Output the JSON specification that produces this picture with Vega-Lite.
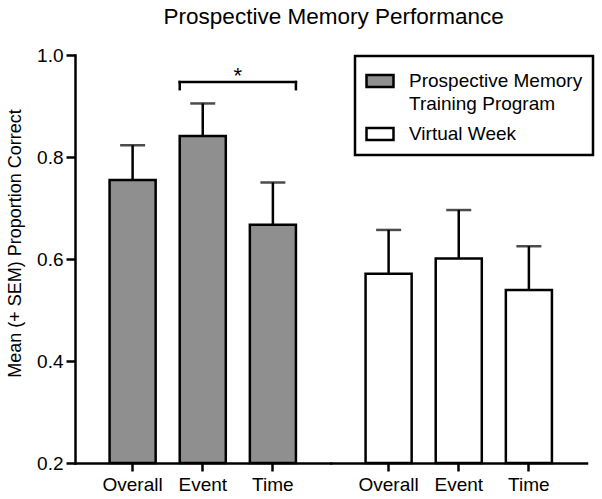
{
  "$schema": "https://vega.github.io/schema/vega-lite/v6.json",
  "padding": {"left": 6, "top": 5, "right": 5, "bottom": 5},
  "background": "white",
  "title": {"text": "Prospective Memory Performance", "anchor": "start", "dx": 157, "fontSize": 22.5, "font": "Liberation Sans", "fontWeight": "normal", "color": "black", "offset": 18},
  "datasets": {
    "bars": [
      {"group": "Prospective Memory Training Program", "cond": "Overall", "mean": 0.755, "upper": 0.823},
      {"group": "Prospective Memory Training Program", "cond": "Event", "mean": 0.841, "upper": 0.905},
      {"group": "Prospective Memory Training Program", "cond": "Time", "mean": 0.667, "upper": 0.750},
      {"group": "Virtual Week", "cond": "Overall", "mean": 0.571, "upper": 0.657},
      {"group": "Virtual Week", "cond": "Event", "mean": 0.601, "upper": 0.696},
      {"group": "Virtual Week", "cond": "Time", "mean": 0.539, "upper": 0.625}
    ],
    "bracket": [
      {"from": "Event", "to": "Time", "y": 0.947, "y2": 0.933, "label": "*"}
    ]
  },
  "spacing": 0,
  "hconcat": [
    {
      "width": 255.5,
      "height": 408,
      "layer": [
        {
          "data": {"name": "bars"},
          "transform": [{"filter": "datum.group == 'Prospective Memory Training Program'"}],
          "mark": {"type": "rule", "color": "black", "strokeWidth": 2.5},
          "encoding": {
            "x": {"field": "cond", "type": "nominal", "scale": {"domain": ["Overall", "Event", "Time"], "paddingInner": 0.343, "paddingOuter": 0.493}, "axis": {"title": null, "labelAngle": 0}},
            "y": {"field": "mean", "type": "quantitative", "scale": {"domain": [0.2, 1.0], "zero": false, "nice": false}, "axis": {"title": "Mean (+ SEM) Proportion Correct", "values": [0.2, 0.4, 0.6, 0.8, 1.0], "format": ".1f", "tickSize": 9, "labelPadding": 3, "titlePadding": 12, "titleY": 188, "titleFontSize": 18}},
            "y2": {"field": "upper"}
          }
        },
        {
          "data": {"name": "bars"},
          "transform": [{"filter": "datum.group == 'Prospective Memory Training Program'"}],
          "mark": {"type": "bar", "stroke": "black", "strokeWidth": 2.5, "opacity": 1},
          "encoding": {
            "x": {"field": "cond", "type": "nominal"},
            "y": {"field": "mean", "type": "quantitative"},
            "y2": {"datum": 0.2},
            "color": {"field": "group", "type": "nominal", "scale": {"domain": ["Prospective Memory Training Program", "Virtual Week"], "range": ["#8f8f8f", "#ffffff"]},
              "legend": {"title": null, "orient": "none", "legendX": 280, "legendY": 1,
                "encode": {"labels": {"update": {"text": {"signal": "datum.value === 'Prospective Memory Training Program' ? ['Prospective Memory', 'Training Program'] : datum.label"}, "lineHeight": {"signal": "datum.value === 'Prospective Memory Training Program' ? 23 : 18"}}}}}}
          }
        },
        {
          "data": {"name": "bars"},
          "transform": [{"filter": "datum.group == 'Prospective Memory Training Program'"}],
          "mark": {"type": "tick", "color": "black", "size": 25, "thickness": 2.5},
          "encoding": {
            "x": {"field": "cond", "type": "nominal"},
            "y": {"field": "upper", "type": "quantitative"}
          }
        },
        {
          "data": {"name": "bracket"},
          "mark": {"type": "rule", "color": "black", "strokeWidth": 2.5, "strokeCap": "square"},
          "encoding": {
            "x": {"field": "from", "type": "nominal", "bandPosition": 0},
            "x2": {"field": "to", "bandPosition": 1},
            "y": {"field": "y", "type": "quantitative"}
          }
        },
        {
          "data": {"name": "bracket"},
          "mark": {"type": "rule", "color": "black", "strokeWidth": 2.5, "strokeCap": "square"},
          "encoding": {
            "x": {"field": "from", "type": "nominal", "bandPosition": 0},
            "y": {"field": "y", "type": "quantitative"},
            "y2": {"field": "y2"}
          }
        },
        {
          "data": {"name": "bracket"},
          "mark": {"type": "rule", "color": "black", "strokeWidth": 2.5, "strokeCap": "square"},
          "encoding": {
            "x": {"field": "to", "type": "nominal", "bandPosition": 1},
            "y": {"field": "y", "type": "quantitative"},
            "y2": {"field": "y2"}
          }
        },
        {
          "data": {"name": "bracket"},
          "mark": {"type": "text", "color": "black", "fontSize": 22, "font": "Liberation Sans", "baseline": "alphabetic", "align": "center", "dx": 12, "dy": 1},
          "encoding": {
            "x": {"field": "from", "type": "nominal", "bandPosition": 1},
            "y": {"field": "y", "type": "quantitative"},
            "text": {"field": "label"}
          }
        }
      ]
    },
    {
      "width": 255.5,
      "height": 408,
      "data": {"name": "bars"},
      "transform": [{"filter": "datum.group == 'Virtual Week'"}],
      "layer": [
        {
          "mark": {"type": "rule", "color": "black", "strokeWidth": 2.5},
          "encoding": {
            "x": {"field": "cond", "type": "nominal", "scale": {"domain": ["Overall", "Event", "Time"], "paddingInner": 0.343, "paddingOuter": 0.493}, "axis": {"title": null, "labelAngle": 0}},
            "y": {"field": "mean", "type": "quantitative", "scale": {"domain": [0.2, 1.0], "zero": false, "nice": false}, "axis": null},
            "y2": {"field": "upper"}
          }
        },
        {
          "mark": {"type": "bar", "stroke": "black", "strokeWidth": 2.5, "opacity": 1},
          "encoding": {
            "x": {"field": "cond", "type": "nominal"},
            "y": {"field": "mean", "type": "quantitative"},
            "y2": {"datum": 0.2},
            "color": {"field": "group", "type": "nominal", "scale": {"domain": ["Prospective Memory Training Program", "Virtual Week"], "range": ["#8f8f8f", "#ffffff"]},
              "legend": {"title": null, "orient": "none", "legendX": 280, "legendY": 1,
                "encode": {"labels": {"update": {"text": {"signal": "datum.value === 'Prospective Memory Training Program' ? ['Prospective Memory', 'Training Program'] : datum.label"}, "lineHeight": {"signal": "datum.value === 'Prospective Memory Training Program' ? 23 : 18"}}}}}}
          }
        },
        {
          "mark": {"type": "tick", "color": "black", "size": 25, "thickness": 2.5},
          "encoding": {
            "x": {"field": "cond", "type": "nominal"},
            "y": {"field": "upper", "type": "quantitative"}
          }
        }
      ]
    }
  ],
  "resolve": {"scale": {"x": "independent", "y": "shared", "color": "shared"}, "legend": {"color": "shared"}},
  "config": {
    "view": {"stroke": null},
    "axis": {"domainColor": "black", "domainWidth": 2.5, "tickColor": "black", "tickWidth": 2.5, "labelColor": "black", "labelFont": "Liberation Sans", "labelFontSize": 19, "titleFont": "Liberation Sans", "titleFontSize": 18, "titleFontWeight": "normal", "titleColor": "black", "grid": false, "domainCap": "square"},
    "axisX": {"tickSize": 8, "labelPadding": 4},
    "legend": {"labelFont": "Liberation Sans", "labelFontSize": 19, "labelColor": "black", "labelLimit": 400, "symbolType": "M-1,-0.44H1V0.44H-1Z", "symbolSize": 729, "symbolStrokeColor": "black", "symbolStrokeWidth": 2.5, "symbolOpacity": 1, "labelOffset": 14, "padding": 10, "strokeColor": "black", "strokeWidth": 2.5, "rowPadding": 5, "fillColor": "white"}
  }
}
